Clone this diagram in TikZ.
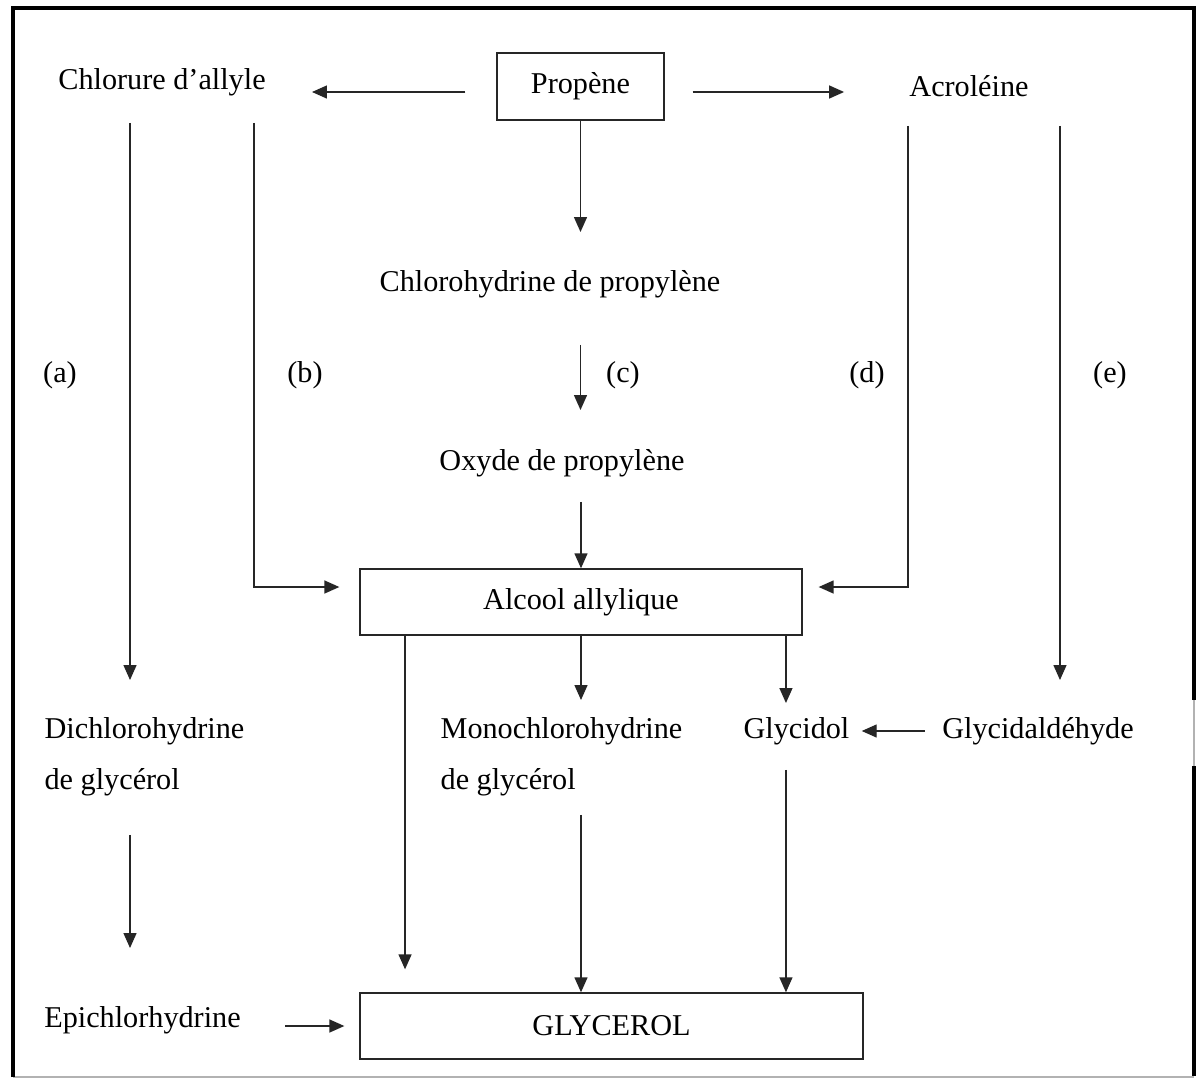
\documentclass[tikz,border=0pt]{standalone}
\usepackage{fontspec}
\setmainfont{Liberation Serif}
\usetikzlibrary{arrows.meta}

\tikzset{
  arr/.style={draw=black!85, line width=0.8pt, -{Triangle[length=3mm,width=2.6mm]}},
  route/.style={inner sep=0pt, font=\fontsize{17.2}{20}\selectfont},
  stage/.style={inner sep=0pt, font=\fontsize{17.2}{29}\selectfont, align=left},
  boxed/.style={draw=black!85, line width=0.8pt, inner sep=0pt, font=\fontsize{17.2}{20}\selectfont, minimum height=13.2mm},
}

\begin{document}
\begin{tikzpicture}[x=0.02cm,y=-0.02cm]
\fill[white] (0,0) rectangle (1198,1079);
% frame
\draw[gray!60, line width=0.6pt] (13,1077) -- (1194,1077);
\draw[gray!60, line width=0.6pt] (1194,700) -- (1194,766);
\draw[line width=2.4pt] (13,1077) -- (13,8) -- (1194,8) -- (1194,700);
\draw[line width=2.4pt] (1194,766) -- (1194,1076);

% products
\node[boxed, minimum width=33.4mm, minimum height=13.4mm] (propene) at (580.5,86.5) {Propène};
\node[route] (allyl) at (162,82) {Chlorure d’allyle};
\node[route] (acro) at (969,86) {Acroléine};
\node[route] (chloro) at (550,284) {Chlorohydrine de propylène};
\node[route] (oxyde) at (562,463) {Oxyde de propylène};
\node[boxed, minimum width=88.4mm] (alcool) at (581,602) {Alcool allylique};
\node[stage] (dichloro) at (144.5,757) {Dichlorohydrine\\de glycérol};
\node[stage] (mono) at (561.5,757) {Monochlorohydrine\\de glycérol};
\node[route] (glycidol) at (796.5,731) {Glycidol};
\node[route] (glycidal) at (1038,731) {Glycidaldéhyde};
\node[route] (epi) at (142.5,1020) {Epichlorhydrine};
\node[boxed, minimum width=100.6mm] (glycerol) at (611.5,1026) {GLYCEROL};

% route labels
\foreach \lbl/\xpos in {a/60, b/305, c/623, d/867, e/1110}
  \node[route] (lbl-\lbl) at (\xpos,375) {(\lbl)};

% columns of the long connectors
\coordinate (colA) at ([xshift=-6.4mm]allyl.center);
\coordinate (colB) at ([xshift=18.4mm]allyl.center);
\coordinate (colD) at ([xshift=-12.2mm]acro.center);
\coordinate (colE) at ([xshift=18.2mm]acro.center);
\coordinate (colL) at ([xshift=-35.2mm]alcool.south);
\coordinate (colR) at ([xshift=41mm]alcool.south);
\coordinate (rowTop) at ([yshift=-1.1mm]propene.center);

\draw[arr, shorten <=6.2mm, shorten >=9.2mm] (rowTop -| propene.west) -- (rowTop -| allyl.east);
\draw[arr, shorten <=5.6mm, shorten >=13mm] (rowTop -| propene.east) -- (rowTop -| acro.west);
\draw[arr, shorten >=10.4mm] (propene.south) -- (propene.south |- chloro);
\draw[arr, shorten <=12.2mm, shorten >=10.6mm] (propene.south |- chloro) -- (propene.south |- oxyde);
\draw[arr, shorten <=7.8mm] (alcool.north |- oxyde) -- (alcool.north);
% (a)
\draw[arr, shorten <=8.2mm, shorten >=15.4mm] (colA) -- (colA |- dichloro);
\draw[arr, shorten <=15.6mm, shorten >=14.4mm] (colA |- dichloro) -- (colA |- epi);
% (b) and (d)
\draw[arr, shorten <=8.2mm] (colB) |- ([xshift=-4mm,yshift=3mm]alcool.west);
\draw[arr, shorten <=8mm] (colD) |- ([xshift=3.2mm,yshift=3mm]alcool.east);
% (e)
\draw[arr, shorten <=8mm, shorten >=10.2mm] (colE) -- (colE |- glycidal);
\draw[arr, shorten <=3.4mm, shorten >=2.4mm] (glycidal.west) -- (glycidal.west -| glycidol.east);
% towards glycerol
\draw[arr, shorten >=6.2mm] (alcool.south) -- (alcool.south |- glycidol);
\draw[arr, shorten >=5.6mm] (colR) -- (colR |- glycidol);
\draw[arr, shorten >=4.6mm] (colL) -- (colL |- glycerol.north);
\draw[arr, shorten <=11.6mm] (alcool.south |- mono) -- (alcool.south |- glycerol.north);
\draw[arr, shorten <=7.8mm] (colR |- glycidol) -- (colR |- glycerol.north);
\draw[arr, shorten <=8.8mm, shorten >=3mm] (glycerol.west -| epi.east) -- (glycerol.west);
\end{tikzpicture}
\end{document}
